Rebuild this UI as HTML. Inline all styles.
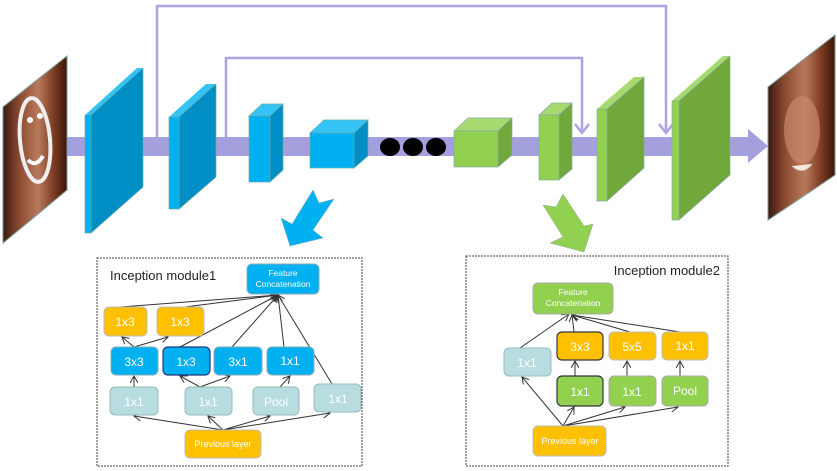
<!DOCTYPE html>
<html><head><meta charset="utf-8"><style>
html,body{margin:0;padding:0;background:#fff;}
svg{display:block;font-family:"Liberation Sans",sans-serif;}
</style></head><body>
<svg width="837" height="471" viewBox="0 0 837 471" xmlns="http://www.w3.org/2000/svg">
<defs>
<linearGradient id="face" x1="0" y1="0" x2="1" y2="0">
<stop offset="0" stop-color="#3a1a0e"/><stop offset="0.25" stop-color="#8a4a30"/><stop offset="0.55" stop-color="#b87a5c"/><stop offset="0.8" stop-color="#7a3a22"/><stop offset="1" stop-color="#3a1608"/>
</linearGradient>
<marker id="ah" markerWidth="8" markerHeight="8" refX="7" refY="4" orient="auto" markerUnits="userSpaceOnUse"><path d="M0,0 L7,4 L0,8" fill="none" stroke="#333" stroke-width="1"/></marker>
</defs>
<polyline points="157,140 157,6 666,6 666,133" fill="none" stroke="#a9a6e0" stroke-width="2.5"/>
<path d="M659,124 L666,133 L673,124" fill="none" stroke="#a9a6e0" stroke-width="2.5"/>
<polyline points="226,140 226,58 582,58 582,133" fill="none" stroke="#a9a6e0" stroke-width="2.5"/>
<path d="M575,124 L582,133 L589,124" fill="none" stroke="#a9a6e0" stroke-width="2.5"/>
<rect x="66" y="137" width="684" height="19" fill="#a3a0dd"/>
<polygon points="748,129 768,146 748,163" fill="#a3a0dd"/>
<polygon points="3,107 67,56 67,190 3,243" fill="url(#face)" stroke="#7a9a9a" stroke-width="1"/>
<ellipse cx="35" cy="140" rx="15" ry="42" fill="none" stroke="#eee" stroke-width="4" transform="rotate(-5 35 140)"/>
<circle cx="30" cy="120" r="3" fill="#fff"/><circle cx="40" cy="116" r="3" fill="#fff"/>
<path d="M28,160 Q36,168 43,156" fill="none" stroke="#fff" stroke-width="4"/>
<polygon points="85,115 91,115 143,68 137,68" fill="#33c3f5"/>
<polygon points="91,115 143,68 143,187 91,233" fill="#008fc4" stroke="#6aa" stroke-width="0.7"/>
<rect x="85" y="115" width="6" height="118" fill="#00b0f0" stroke="#6aa" stroke-width="0.7"/>
<polygon points="169,117 179,117 216,84 206,84" fill="#33c3f5"/>
<polygon points="179,117 216,84 216,177 179,209" fill="#008fc4" stroke="#6aa" stroke-width="0.7"/>
<rect x="169" y="117" width="10" height="92" fill="#00b0f0" stroke="#6aa" stroke-width="0.7"/>
<polygon points="249,116 270,116 283,104 262,104" fill="#33c3f5" stroke="#6aa" stroke-width="0.7"/>
<polygon points="270,116 283,104 283,170 270,182" fill="#008fc4" stroke="#6aa" stroke-width="0.7"/>
<rect x="249" y="116" width="21" height="66" fill="#00b0f0" stroke="#6aa" stroke-width="0.7"/>
<polygon points="310,133 354,133 368,120 324,120" fill="#33c3f5" stroke="#6aa" stroke-width="0.7"/>
<polygon points="354,133 368,120 368,156 354,168" fill="#008fc4" stroke="#6aa" stroke-width="0.7"/>
<rect x="310" y="133" width="44" height="35" fill="#00b0f0" stroke="#6aa" stroke-width="0.7"/>
<ellipse cx="390" cy="147" rx="10" ry="9" fill="#000"/>
<ellipse cx="413" cy="147" rx="10" ry="9" fill="#000"/>
<ellipse cx="436" cy="147" rx="10" ry="9" fill="#000"/>
<polygon points="454,131 498,131 512,118 468,118" fill="#a6da6e" stroke="#8aa" stroke-width="0.7"/>
<polygon points="498,131 512,118 512,155 498,167" fill="#70a83c" stroke="#8aa" stroke-width="0.7"/>
<rect x="454" y="131" width="44" height="36" fill="#92d050" stroke="#8aa" stroke-width="0.7"/>
<polygon points="539,115 559,115 572,103 552,103" fill="#a6da6e" stroke="#8aa" stroke-width="0.7"/>
<polygon points="559,115 572,103 572,169 559,180" fill="#70a83c" stroke="#8aa" stroke-width="0.7"/>
<rect x="539" y="115" width="20" height="65" fill="#92d050" stroke="#8aa" stroke-width="0.7"/>
<polygon points="597,109 607,109 644,77 634,77" fill="#a6da6e"/>
<polygon points="607,109 644,77 644,168 607,201" fill="#70a83c" stroke="#8aa" stroke-width="0.7"/>
<rect x="597" y="109" width="10" height="92" fill="#92d050" stroke="#8aa" stroke-width="0.7"/>
<polygon points="672,101 679,101 730,56 723,56" fill="#a6da6e"/>
<polygon points="679,101 730,56 730,175 679,220" fill="#70a83c" stroke="#8aa" stroke-width="0.7"/>
<rect x="672" y="101" width="7" height="119" fill="#92d050" stroke="#8aa" stroke-width="0.7"/>
<polygon points="768,87 835,35 835,175 768,220" fill="url(#face)" stroke="#7a9a9a" stroke-width="1"/>
<ellipse cx="802" cy="130" rx="18" ry="34" fill="#c8876a" opacity="0.7"/>
<path d="M792,166 Q803,176 812,164" fill="#f4e8e0" stroke="#e0c0b0"/>
<polygon points="290,246 281,218 292,224 313,190 319,203 334,199 313,230 323,238" fill="#00b0f0" stroke="#8ab" stroke-width="0.5"/>
<polygon points="584,252 550,243 563,237 543,205 556,207 563,194 584,226 593,224" fill="#92d050" stroke="#8aa" stroke-width="0.5"/>
<rect x="97" y="258" width="265" height="208" fill="none" stroke="#444" stroke-width="1" stroke-dasharray="2,1"/>
<rect x="466" y="256" width="262" height="210" fill="none" stroke="#444" stroke-width="1" stroke-dasharray="2,1"/>
<text x="110" y="280" font-size="13" fill="#222">Inception module1</text>
<text x="720" y="275" font-size="13" fill="#222" text-anchor="end">Inception module2</text>
<g stroke="#333" stroke-width="1" fill="none" marker-end="url(#ah)">
<line x1="223" y1="430" x2="134" y2="416"/>
<line x1="223" y1="430" x2="208" y2="416"/>
<line x1="223" y1="430" x2="270" y2="416"/>
<line x1="223" y1="430" x2="330" y2="413"/>
<line x1="134" y1="387" x2="134" y2="376"/>
<line x1="200" y1="387" x2="180" y2="376"/>
<line x1="200" y1="387" x2="230" y2="376"/>
<line x1="280" y1="387" x2="290" y2="376"/>
<line x1="134" y1="347" x2="122" y2="337"/>
<line x1="134" y1="347" x2="168" y2="337"/>
<line x1="120" y1="307" x2="278" y2="295"/>
<line x1="185" y1="307" x2="278" y2="295"/>
<line x1="180" y1="347" x2="278" y2="295"/>
<line x1="232" y1="347" x2="278" y2="295"/>
<line x1="284" y1="347" x2="278" y2="295"/>
<line x1="332" y1="384" x2="278" y2="295"/>
<line x1="563" y1="426" x2="522" y2="377"/>
<line x1="563" y1="426" x2="574" y2="407"/>
<line x1="563" y1="426" x2="625" y2="407"/>
<line x1="563" y1="426" x2="678" y2="407"/>
<line x1="575" y1="376" x2="575" y2="361"/>
<line x1="627" y1="376" x2="627" y2="361"/>
<line x1="680" y1="376" x2="680" y2="361"/>
<line x1="520" y1="348" x2="569" y2="314"/>
<line x1="574" y1="332" x2="572" y2="315"/>
<line x1="630" y1="332" x2="572" y2="315"/>
<line x1="680" y1="332" x2="572" y2="315"/>
</g>
<g font-size="11" fill="#fff" text-anchor="middle">
<rect x="247" y="264" width="72" height="30" rx="5" fill="#00b0f0" stroke="#8ab"/>
<text x="283" y="276" font-size="8.5">Feature</text><text x="283" y="287" font-size="8.5">Concatenation</text>
<rect x="104" y="307" width="43" height="29" rx="5" fill="#ffc000" stroke="#bbb"/><text x="125" y="326" font-size="12">1x3</text>
<rect x="157" y="307" width="47" height="29" rx="5" fill="#ffc000" stroke="#bbb"/><text x="180" y="326" font-size="12">1x3</text>
<rect x="111" y="347" width="47" height="28" rx="5" fill="#00b0f0" stroke="#8ab"/><text x="134" y="366" font-size="12">3x3</text>
<rect x="163" y="347" width="47" height="28" rx="5" fill="#00b0f0" stroke="#1f3a7a" stroke-width="1.2"/><text x="186" y="366" font-size="12">1x3</text>
<rect x="214" y="347" width="48" height="28" rx="5" fill="#00b0f0" stroke="#8ab"/><text x="238" y="366" font-size="12">3x1</text>
<rect x="267" y="347" width="47" height="28" rx="5" fill="#00b0f0" stroke="#8ab"/><text x="290" y="365" font-size="12">1x1</text>
<rect x="110" y="387" width="48" height="28" rx="5" fill="#b7dde0" stroke="#9bb"/><text x="134" y="406" font-size="12">1x1</text>
<rect x="185" y="387" width="47" height="28" rx="5" fill="#b7dde0" stroke="#9bb"/><text x="208" y="406" font-size="12">1x1</text>
<rect x="253" y="387" width="46" height="28" rx="5" fill="#b7dde0" stroke="#9bb"/><text x="276" y="406" font-size="12">Pool</text>
<rect x="314" y="384" width="47" height="28" rx="5" fill="#b7dde0" stroke="#9bb"/><text x="338" y="403" font-size="12">1x1</text>
<rect x="185" y="430" width="76" height="28" rx="5" fill="#ffc000" stroke="#bbb"/><text x="223" y="447" font-size="9">Previous layer</text>
<rect x="533" y="283" width="80" height="31" rx="5" fill="#92d050" stroke="#aaa"/>
<text x="573" y="295" font-size="8.5">Feature</text><text x="573" y="306" font-size="8.5">Concatenation</text>
<rect x="504" y="348" width="47" height="28" rx="5" fill="#b7dde0" stroke="#9bb"/><text x="527" y="367" font-size="12">1x1</text>
<rect x="557" y="332" width="46" height="28" rx="5" fill="#ffc000" stroke="#334" stroke-width="1.2"/><text x="580" y="351" font-size="12">3x3</text>
<rect x="609" y="332" width="47" height="28" rx="5" fill="#ffc000" stroke="#bbb"/><text x="632" y="351" font-size="12">5x5</text>
<rect x="662" y="332" width="46" height="28" rx="5" fill="#ffc000" stroke="#bbb"/><text x="685" y="350" font-size="12">1x1</text>
<rect x="557" y="376" width="46" height="30" rx="5" fill="#92d050" stroke="#334" stroke-width="1.2"/><text x="580" y="396" font-size="12">1x1</text>
<rect x="609" y="376" width="47" height="30" rx="5" fill="#92d050" stroke="#aaa"/><text x="632" y="396" font-size="12">1x1</text>
<rect x="662" y="376" width="46" height="30" rx="5" fill="#92d050" stroke="#aaa"/><text x="685" y="395" font-size="12">Pool</text>
<rect x="533" y="426" width="73" height="30" rx="5" fill="#ffc000" stroke="#bbb"/><text x="570" y="444" font-size="9">Previous layer</text>
</g>
</svg>
</body></html>
